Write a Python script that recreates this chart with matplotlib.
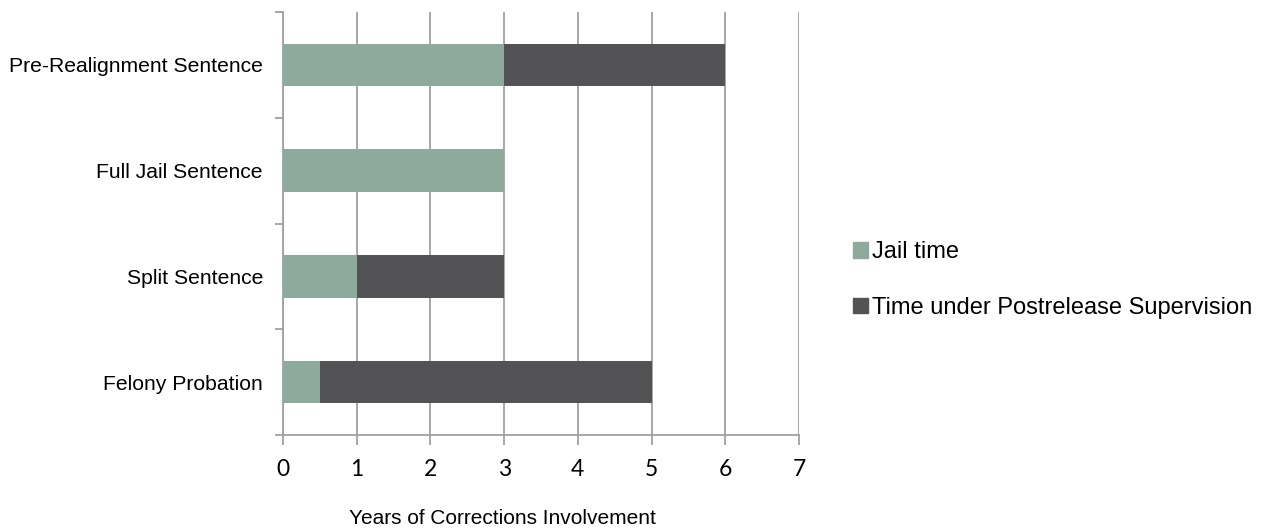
import matplotlib.pyplot as plt
from matplotlib.patches import Patch

# data
categories = ["Felony Probation", "Split Sentence", "Full Jail Sentence", "Pre-Realignment Sentence"]
jail_time = [0.5, 1, 3, 3]
supervision = [4.5, 2, 0, 3]
x_ticks = [0, 1, 2, 3, 4, 5, 6, 7]

jail_color = "#8DAA9D"
sup_color = "#535355"
grid_color = "#A0A0A0"

fig = plt.figure(figsize=(12.65, 5.29), dpi=100)
ax = fig.add_axes([283 / 1265, 1 - 435 / 529, (799 - 283) / 1265, (435 - 12) / 529])

ypos = list(range(len(categories)))
ax.barh(ypos, jail_time, height=0.4, color=jail_color, zorder=3)
ax.barh(ypos, supervision, left=jail_time, height=0.4, color=sup_color, zorder=3)

ax.set_xlim(0, 7)
ax.set_ylim(-0.5, 3.5)

# vertical gridlines
ax.set_xticks(x_ticks)
ax.set_xticklabels([str(t) for t in x_ticks], fontfamily="Lato", fontsize=16.5)
ax.grid(axis="x", color=grid_color, linewidth=1.3, zorder=0)
ax.tick_params(axis="x", direction="out", length=7, width=1.3, color=grid_color, pad=10)

# category labels between the boundary ticks
ax.set_yticks([-0.5, 0.5, 1.5, 2.5, 3.5])
ax.set_yticklabels([])
ax.set_yticks(ypos, minor=True)
ax.set_yticklabels(categories, minor=True, fontfamily="Liberation Sans", fontsize=15.2)
ax.tick_params(axis="y", which="major", direction="out", length=6, width=1.3, color=grid_color)
ax.tick_params(axis="y", which="minor", length=0, pad=14.4)

for s in ["top", "right"]:
    ax.spines[s].set_visible(False)
for s in ["left", "bottom"]:
    ax.spines[s].set_color(grid_color)
    ax.spines[s].set_linewidth(1.3)

fig.text(502.5 / 1265, 1 - 518 / 529, "Years of Corrections Involvement", ha="center", va="center",
         fontfamily="Liberation Sans", fontsize=15)

handles = [Patch(color=jail_color, label="Jail time"),
           Patch(color=sup_color, label="Time under Postrelease Supervision")]
fig.legend(handles=handles, loc="center left", bbox_to_anchor=(832 / 1265, 1 - 280 / 529),
           frameon=False, prop={"family": "Liberation Sans", "size": 17},
           handlelength=0.64, handleheight=0.64, handletextpad=0.17, labelspacing=1.42)

fig.savefig("out.png", dpi=100)
